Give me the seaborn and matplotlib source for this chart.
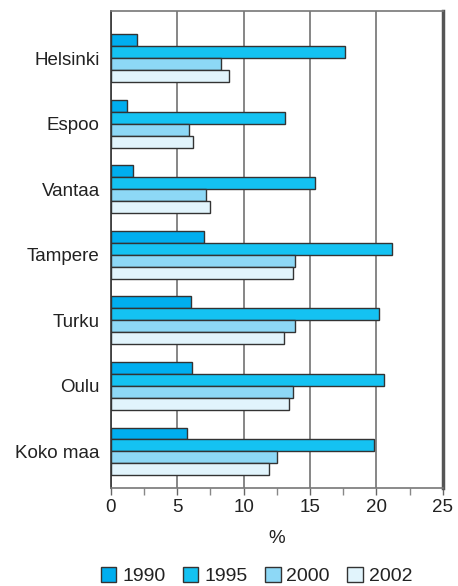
import pandas as pd
import numpy as np
import matplotlib.pyplot as plt
import seaborn as sns
from matplotlib.ticker import MultipleLocator

# Data
kaupungit = ['Helsinki', 'Espoo', 'Vantaa', 'Tampere', 'Turku', 'Oulu', 'Koko maa']
vuodet = ['1990', '1995', '2000', '2002']
v1990 = [2.0, 1.2, 1.7, 7.0, 6.0, 6.1, 5.7]
v1995 = [17.6, 13.1, 15.4, 21.2, 20.2, 20.6, 19.8]
v2000 = [8.3, 5.9, 7.2, 13.9, 13.9, 13.7, 12.5]
v2002 = [8.9, 6.2, 7.5, 13.7, 13.0, 13.4, 11.9]

df = pd.DataFrame({'Kaupunki': kaupungit * 4,
                   'Vuosi': np.repeat(vuodet, len(kaupungit)),
                   'Arvo': v1990 + v1995 + v2000 + v2002})

varit = ['#00AEEF', '#14C2F2', '#8DD8F6', '#E1F4FC']

sns.set_theme(style='white')
plt.rcParams['font.family'] = ['Liberation Sans', 'DejaVu Sans']

fig = plt.figure(figsize=(4.58, 5.86), dpi=100)
ax = fig.add_axes([0.242, 0.167, 0.725, 0.814])

sns.barplot(data=df, y='Kaupunki', x='Arvo', hue='Vuosi', orient='h',
            palette=varit, width=0.73, edgecolor='#333333', linewidth=1.0,
            saturation=1, ax=ax, legend=False)

ax.set_xlim(0, 25)
ax.set_ylim(6.56, -0.72)
ax.xaxis.set_major_locator(MultipleLocator(5))
ax.xaxis.set_minor_locator(MultipleLocator(2.5))
ax.grid(axis='x', which='major', color='#666666', linewidth=1.1)
ax.set_axisbelow(True)
ax.tick_params(axis='x', which='major', bottom=True, length=5, width=1, color='#666666',
               labelsize=13.5, pad=3, labelcolor='#222222')
ax.tick_params(axis='x', which='minor', bottom=True, length=5, width=1, color='#888888')
ax.tick_params(axis='y', left=False, labelsize=13.5, pad=2, labelcolor='#222222')
for s in ['left', 'bottom', 'top']:
    ax.spines[s].set_color('#777777')
    ax.spines[s].set_linewidth(1.2)
ax.spines['left'].set_color('#333333')
ax.spines['right'].set_color('#555555')
ax.spines['right'].set_linewidth(2.5)
ax.set_xlabel('%', fontsize=13.5, labelpad=10, color='#222222')
ax.set_ylabel('')

handles = [plt.Rectangle((0, 0), 1, 1, facecolor=c, edgecolor='#333333', linewidth=1.0)
           for c in varit]
fig.legend(handles, vuodet, loc='lower center', bbox_to_anchor=(0.56, -0.028), ncol=4,
           frameon=False, fontsize=14, handlelength=0.8, handleheight=0.8,
           handletextpad=0.3, columnspacing=0.9, labelcolor='#222222')

fig.savefig('out.png', dpi=100)
